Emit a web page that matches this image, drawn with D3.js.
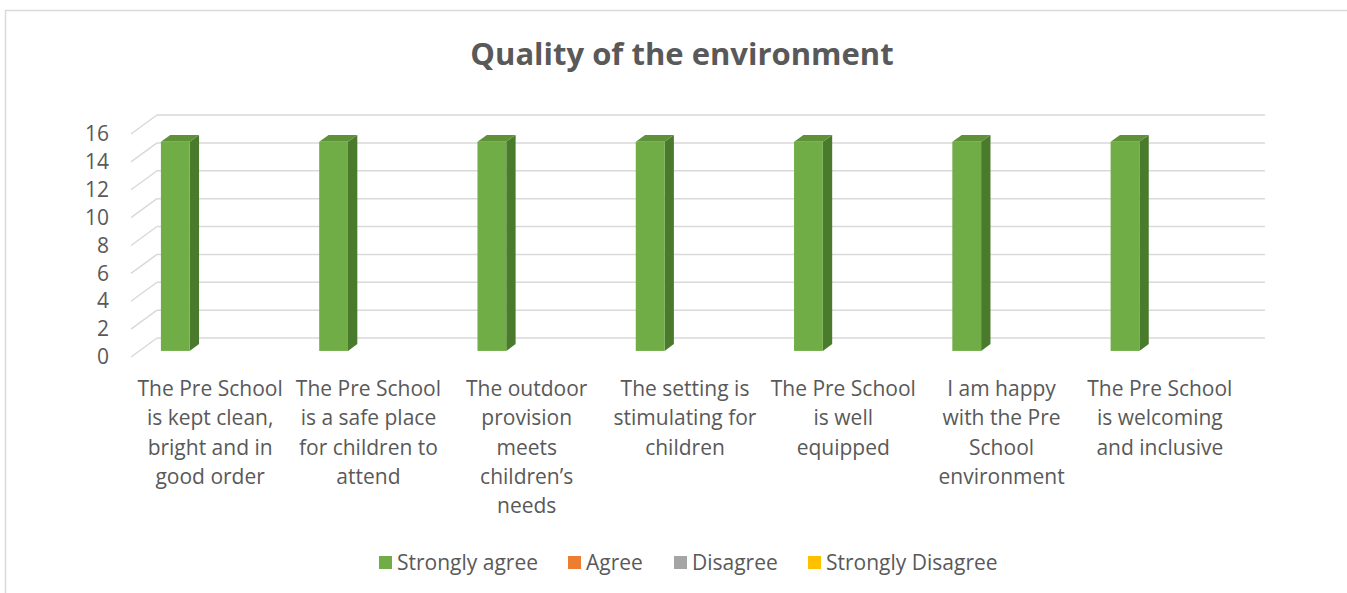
<!DOCTYPE html>
<html lang="en">
<head>
  <meta charset="UTF-8">
  <title>Quality of the environment</title>
  <script src="https://d3js.org/d3.v7.min.js"></script>
  <style>
    body { margin: 0; background: #fff; }
    text { font-family: "Open Sans", Arial, sans-serif; fill: #595959; }
  </style>
</head>
<body>
  <div id="chart"></div>
  <script>
    // data
    const categories = ["c1", "c2", "c3", "c4", "c5", "c6", "c7"];
    const categoryLabels = [
      ["The Pre School", "is kept clean,", "bright and in", "good order"],
      ["The Pre School", "is a safe place", "for children to", "attend"],
      ["The outdoor", "provision", "meets", "children\u2019s", "needs"],
      ["The setting is", "stimulating for", "children"],
      ["The Pre School", "is well", "equipped"],
      ["I am happy", "with the Pre", "School", "environment"],
      ["The Pre School", "is welcoming", "and inclusive"]
    ];
    const seriesNames = ["Strongly agree", "Agree", "Disagree", "Strongly Disagree"];
    const stronglyAgree = [15, 15, 15, 15, 15, 15, 15];
    const agree = [0, 0, 0, 0, 0, 0, 0];
    const disagree = [0, 0, 0, 0, 0, 0, 0];
    const stronglyDisagree = [0, 0, 0, 0, 0, 0, 0];
    const yTicks = [0, 2, 4, 6, 8, 10, 12, 14, 16];

    const seriesValues = [stronglyAgree, agree, disagree, stronglyDisagree];
    const colors = ["#70AD47", "#ED7D31", "#A5A5A5", "#FFC000"];
    const sideColors = ["#4A7A2C", "#B35A1F", "#7C7C7C", "#BF9000"];
    const topColors = ["#5E9138", "#D06A26", "#8E8E8E", "#D9A300"];

    const W = 1347, H = 593;
    // 3d depth offset (full depth of the plot)
    const DX = 26, DY = 19;
    const barD0 = 0.32, barD1 = 0.68;

    const svg = d3.select("#chart").append("svg")
      .attr("width", W).attr("height", H);

    // chart border
    svg.append("rect")
      .attr("x", 5.5).attr("y", 10.5)
      .attr("width", 1400).attr("height", 700)
      .attr("fill", "#fff").attr("stroke", "#d9d9d9").attr("stroke-width", 1.5);

    // title
    svg.append("text")
      .attr("x", 682).attr("y", 65)
      .attr("text-anchor", "middle")
      .style("font-size", "31px").style("font-weight", "bold")
      .text("Quality of the environment");

    // scales (front plane)
    const x0 = d3.scaleBand().domain(categories).range([131, 1239]);
    const x1 = d3.scaleBand().domain(seriesNames)
      .range([0, x0.bandwidth()]).paddingInner(0).paddingOuter(0.75);
    const y = d3.scaleLinear().domain([0, 16]).range([357, 134]);

    // gridlines: side wall diagonal + back wall
    const grid = svg.append("g").attr("stroke", "#d9d9d9").attr("stroke-width", 1.5);
    yTicks.forEach(t => {
      grid.append("line")
        .attr("x1", x0.range()[0]).attr("y1", y(t))
        .attr("x2", x0.range()[0] + DX).attr("y2", y(t) - DY);
      grid.append("line")
        .attr("x1", x0.range()[0] + DX).attr("y1", y(t) - DY)
        .attr("x2", x0.range()[1] + DX).attr("y2", y(t) - DY);
    });

    // y axis
    svg.append("g")
      .attr("transform", `translate(${x0.range()[0]},0)`)
      .call(d3.axisLeft(y).tickValues(yTicks).tickSize(0).tickPadding(22))
      .call(g => g.select(".domain").remove())
      .selectAll("text")
      .style("font-size", "21px")
      .style("font-family", "'Open Sans', Arial, sans-serif")
      .attr("fill", "#595959");

    // bars
    const bw = x1.bandwidth();
    const bars = svg.append("g");
    seriesNames.forEach((s, si) => {
      categories.forEach((c, ci) => {
        const v = seriesValues[si][ci];
        if (!v) return;
        const xl = x0(c) + x1(s) + barD0 * DX;
        const xr = xl + bw;
        const yt = y(v) - barD0 * DY;
        const yb = y(0) - barD0 * DY;
        const ddx = (barD1 - barD0) * DX, ddy = (barD1 - barD0) * DY;
        bars.append("polygon")
          .attr("points", [[xr, yt], [xr + ddx, yt - ddy], [xr + ddx, yb - ddy], [xr, yb]].join(" "))
          .attr("fill", sideColors[si]);
        bars.append("polygon")
          .attr("points", [[xl, yt], [xr, yt], [xr + ddx, yt - ddy], [xl + ddx, yt - ddy]].join(" "))
          .attr("fill", topColors[si]);
        bars.append("rect")
          .attr("x", xl).attr("y", yt)
          .attr("width", bw).attr("height", yb - yt)
          .attr("fill", colors[si]);
      });
    });

    // category labels
    const labels = svg.append("g");
    categories.forEach((c, ci) => {
      const t = labels.append("text")
        .attr("text-anchor", "middle")
        .style("font-size", "21px");
      categoryLabels[ci].forEach((line, li) => {
        t.append("tspan")
          .attr("x", x0(c) + x0.bandwidth() / 2)
          .attr("y", 396 + li * 29.3)
          .text(line);
      });
    });

    // legend
    const legendX = [379, 568, 674, 808];
    const legend = svg.append("g");
    seriesNames.forEach((s, si) => {
      legend.append("rect")
        .attr("x", legendX[si]).attr("y", 556)
        .attr("width", 13).attr("height", 13)
        .attr("fill", colors[si]);
      legend.append("text")
        .attr("x", legendX[si] + 18).attr("y", 570)
        .style("font-size", "21px")
        .text(s);
    });
  </script>
</body>
</html>
